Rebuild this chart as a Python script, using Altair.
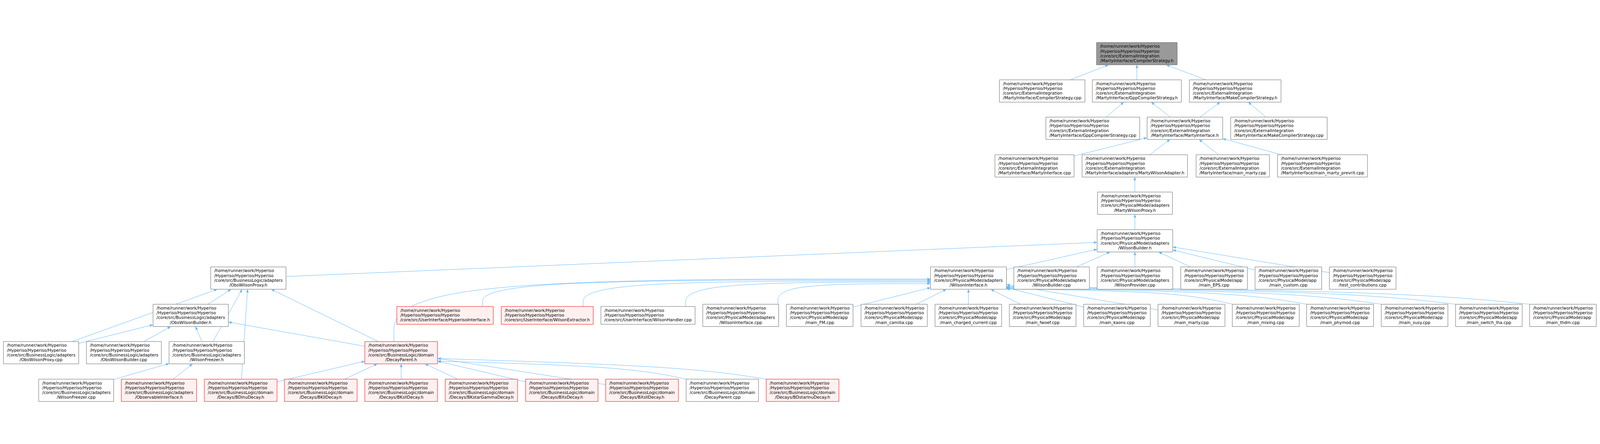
import math
import altair as alt
import pandas as pd

H1 = "/home/runner/work/Hyperiso"
H2 = "/Hyperiso/Hyperiso/Hyperiso"
EI = "/core/src/ExternalIntegration"
PMA = "/core/src/PhysicalModel/adapters"
APP = "/core/src/PhysicalModel/app"
BLA = "/core/src/BusinessLogic/adapters"
BLD = "/core/src/BusinessLogic/domain"

# ---- nodes: label lines, kind ----
node_labels = [
    [H1, H2, EI, "/MartyInterface/CompilerStrategy.h"],          # 0
    [H1, H2, EI, "/MartyInterface/CompilerStrategy.cpp"],        # 1
    [H1, H2, EI, "/MartyInterface/GppCompilerStrategy.h"],       # 2
    [H1, H2, EI, "/MartyInterface/MakeCompilerStrategy.h"],      # 3
    [H1, H2, EI, "/MartyInterface/GppCompilerStrategy.cpp"],     # 4
    [H1, H2, EI, "/MartyInterface/MartyInterface.h"],            # 5
    [H1, H2, EI, "/MartyInterface/MakeCompilerStrategy.cpp"],    # 6
    [H1, H2, EI, "/MartyInterface/MartyInterface.cpp"],          # 7
    [H1, H2, EI, "/MartyInterface/adapters/MartyWilsonAdapter.h"],  # 8
    [H1, H2, EI, "/MartyInterface/main_marty.cpp"],              # 9
    [H1, H2, EI, "/MartyInterface/main_marty_prevrit.cpp"],      # 10
    [H1, H2, PMA, "/MartyWilsonProxy.h"],                        # 11
    [H1, H2, PMA, "/WilsonBuilder.h"],                           # 12
    [H1, H2, BLA, "/ObsWilsonProxy.h"],                          # 13
    [H1, H2, PMA, "/WilsonInterface.h"],                         # 14
    [H1, H2, PMA, "/WilsonBuilder.cpp"],                         # 15
    [H1, H2, PMA, "/WilsonProvider.cpp"],                        # 16
    [H1, H2, APP, "/main_EPS.cpp"],                              # 17
    [H1, H2, APP, "/main_custom.cpp"],                           # 18
    [H1, H2, APP, "/test_contributions.cpp"],                    # 19
    [H1, H2, BLA, "/ObsWilsonBuilder.h"],                        # 20
    [H1, H2, "/core/src/UserInterface/HyperisoInterface.h"],     # 21
    [H1, H2, "/core/src/UserInterface/WilsonExtractor.h"],       # 22
    [H1, H2, "/core/src/UserInterface/WilsonHandler.cpp"],       # 23
    [H1, H2, PMA, "/WilsonInterface.cpp"],                       # 24
    [H1, H2, APP, "/main_FM.cpp"],                               # 25
    [H1, H2, APP, "/main_camilia.cpp"],                          # 26
    [H1, H2, APP, "/main_charged_current.cpp"],                  # 27
    [H1, H2, APP, "/main_fwoef.cpp"],                            # 28
    [H1, H2, APP, "/main_kaons.cpp"],                            # 29
    [H1, H2, APP, "/main_marty.cpp"],                            # 30
    [H1, H2, APP, "/main_mixing.cpp"],                           # 31
    [H1, H2, APP, "/main_phymod.cpp"],                           # 32
    [H1, H2, APP, "/main_susy.cpp"],                             # 33
    [H1, H2, APP, "/main_switch_lha.cpp"],                       # 34
    [H1, H2, APP, "/main_thdm.cpp"],                             # 35
    [H1, H2, BLA, "/ObsWilsonProxy.cpp"],                        # 36
    [H1, H2, BLA, "/ObsWilsonBuilder.cpp"],                      # 37
    [H1, H2, BLA, "/WilsonFreezer.h"],                           # 38
    [H1, H2, BLD, "/DecayParent.h"],                             # 39
    [H1, H2, BLA, "/WilsonFreezer.cpp"],                         # 40
    [H1, H2, BLA, "/ObservableInterface.h"],                     # 41
    [H1, H2, BLD, "/Decays/BDlnuDecay.h"],                       # 42
    [H1, H2, BLD, "/Decays/BKllDecay.h"],                        # 43
    [H1, H2, BLD, "/Decays/BKsllDecay.h"],                       # 44
    [H1, H2, BLD, "/Decays/BKstarGammaDecay.h"],                 # 45
    [H1, H2, BLD, "/Decays/BXsDecay.h"],                         # 46
    [H1, H2, BLD, "/Decays/BXsllDecay.h"],                       # 47
    [H1, H2, BLD, "/DecayParent.cpp"],                           # 48
    [H1, H2, BLD, "/Decays/BDstarlnuDecay.h"],                   # 49
]
node_kind = (["focus"] + ["plain"] * 20 + ["red", "red"] + ["plain"] * 16
             + ["red", "plain", "red", "red", "red", "red", "red", "red", "red", "plain", "red"])

# ---- layout (graph positions) ----
node_x1 = [3417, 3114, 3404, 3707, 3259, 3575, 3836, 3100, 3372, 3728, 3982,
           3420, 3419, 652, 2899, 3159, 3419, 3680, 3912, 4144,
           472, 1233, 1559, 1870, 2188, 2449, 2682, 2913, 3145, 3377, 3609, 3841, 4073, 4306, 4538, 4769,
           5, 264, 522, 1133,
           115, 373, 632, 882, 1133, 1384, 1635, 1885, 2136, 2386]
node_x2 = [3669, 3381, 3682, 3993, 3552, 3811, 4137, 3347, 3701, 3957, 4263,
           3654, 3655, 887, 3136, 3395, 3655, 3888, 4120, 4352,
           707, 1534, 1846, 2164, 2425, 2657, 2889, 3121, 3353, 3585, 3818, 4050, 4282, 4514, 4746, 4977,
           240, 498, 757, 1360,
           349, 608, 859, 1109, 1360, 1610, 1861, 2112, 2362, 2613]
row_top = [5, 122, 239, 357, 474, 592, 709, 826, 943, 1061]
node_row = [0, 1, 1, 1, 2, 2, 2, 3, 3, 3, 3, 4, 5] + [6] * 7 + [7] * 16 + [8] * 4 + [9] * 10

# ---- edges: child, parent, routing, parent-side port, child-top port ----
edge_child = [1, 2, 3, 4, 5, 5, 6, 7, 8, 9, 10, 11, 12,
              13, 14, 15, 16, 17, 18, 19,
              20, 36, 38, 42, 39,
              39, 21, 22, 23, 24,
              25, 26, 27, 28, 29, 30,
              31, 32, 33, 34, 35,
              36, 37, 38, 39,
              40, 41,
              42, 43, 44, 45, 46, 47, 48, 49]
edge_parent = [0, 0, 0, 2, 2, 3, 3, 5, 5, 5, 5, 8, 11,
               12, 12, 12, 12, 12, 12, 12,
               13, 13, 13, 13, 13,
               14, 14, 14, 14, 14,
               14, 14, 14, 14, 14, 14,
               14, 14, 14, 14, 14,
               20, 20, 20, 20,
               38, 38,
               39, 39, 39, 39, 39, 39, 39, 39]
edge_route = (["s"] * 25 + ["L"] * 5 + ["s"] * 6 + ["R"] * 5 + ["s"] * 8
              + ["s", "s", "s", "s", "R", "R", "R", "R"])
edge_f = ([0] * 25 + [0.54, 0.58, 0.63, 0.68, 0.75] + [0] * 6
          + [0.99, 0.96, 0.93, 0.90, 0.87] + [0] * 8 + [0, 0, 0, 0, 0.88, 0.76, 0.66, 0.56])
edge_g = ([0] * 25 + [0.40, 0.89, 0.89, 0.90, 0.99] + [0] * 6
          + [0.0] * 5 + [0] * 8 + [0, 0, 0, 0, 0.0, 0.0, 0.0, 0.0])

FILL = {"focus": "#999999", "plain": "#ffffff", "red": "#fff0f0"}
STROKE = {"focus": "#666666", "plain": "#666666", "red": "#ff0000"}
EDGE = "#63b8ff"
LH = 15.0

# ---- build node table ----
boxes = []
for i, lab in enumerate(node_labels):
    n = len(lab)
    y1 = row_top[node_row[i]]
    hgt = 70 if n == 4 else 56
    if n == 3:
        y1 += 7
    boxes.append(dict(id=i, x=node_x1[i], x2=node_x2[i], y=y1, y2=y1 + hgt, kind=node_kind[i]))
nodes_df = pd.DataFrame(boxes)

text_rows = []
for b, lab in zip(boxes, node_labels):
    n = len(lab)
    cx = (b["x"] + b["x2"]) / 2
    cy = (b["y"] + b["y2"]) / 2
    for k, line in enumerate(lab):
        yy = cy + (k - (n - 1) / 2) * LH
        if k < n - 1:
            text_rows.append(dict(x=b["x"] + 11, y=yy, t=line, al="left"))
        else:
            text_rows.append(dict(x=cx, y=yy, t=line, al="center"))
text_df = pd.DataFrame(text_rows)


def center(b):
    return ((b["x"] + b["x2"]) / 2, (b["y"] + b["y2"]) / 2)


def clip(b, target):
    cx, cy = center(b)
    dx, dy = target[0] - cx, target[1] - cy
    hw, hh = (b["x2"] - b["x"]) / 2, (b["y2"] - b["y"]) / 2
    t = min(hw / abs(dx) if dx else 1e9, hh / abs(dy) if dy else 1e9)
    return (cx + dx * t, cy + dy * t)


line_rows, arrow_rows = [], []
for e, (c, p) in enumerate(zip(edge_child, edge_parent)):
    cb, pb = boxes[c], boxes[p]
    r = edge_route[e]
    if r == "s":
        tip = clip(pb, center(cb))
        end = clip(cb, center(pb))
        pts = [tip, end]
    elif r == "L":
        tip = (pb["x"], pb["y"] + edge_f[e] * (pb["y2"] - pb["y"]))
        end = (cb["x"] + edge_g[e] * (cb["x2"] - cb["x"]), cb["y"])
        pts = [tip, (end[0], tip[1]), end]
    else:
        tip = (pb["x2"], pb["y"] + edge_f[e] * (pb["y2"] - pb["y"]))
        end = (cb["x"] + edge_g[e] * (cb["x2"] - cb["x"]) + 1, cb["y"])
        pts = [tip, (tip[0] + 0.75 * (end[0] - tip[0]), end[1] - 40), end]
    for o, (px, py) in enumerate(pts):
        line_rows.append(dict(eid=e, o=o, x=px, y=py))
    nx, ny = pts[1]
    dx, dy = tip[0] - nx, tip[1] - ny
    L = math.hypot(dx, dy)
    ux, uy = dx / L, dy / L
    ang = (math.degrees(math.atan2(ux, -uy)) + 360) % 360
    arrow_rows.append(dict(x=tip[0] - ux * 5, y=tip[1] - uy * 5, ang=ang))
lines_df = pd.DataFrame(line_rows)
arrows_df = pd.DataFrame(arrow_rows)

XS = alt.Scale(domain=[4, 4979], nice=False, zero=False)
YS = alt.Scale(domain=[4, 1132], nice=False, zero=False, reverse=True)

edges = alt.Chart(lines_df).mark_line(interpolate="basis", color=EDGE, strokeWidth=1.2).encode(
    x=alt.X("x:Q", scale=XS, axis=None),
    y=alt.Y("y:Q", scale=YS, axis=None),
    detail="eid:N",
    order="o:Q",
)

arrows = alt.Chart(arrows_df).mark_point(
    shape="M0,-1L0.8,1L-0.8,1Z", filled=True, size=100, color=EDGE, opacity=1, strokeWidth=0
).encode(
    x=alt.X("x:Q", scale=XS, axis=None),
    y=alt.Y("y:Q", scale=YS, axis=None),
    angle=alt.Angle("ang:Q", scale=None),
)

kinds = ["focus", "plain", "red"]
rects = alt.Chart(nodes_df).mark_rect(strokeWidth=1.2).encode(
    x=alt.X("x:Q", scale=XS, axis=None),
    x2="x2:Q",
    y=alt.Y("y:Q", scale=YS, axis=None),
    y2="y2:Q",
    fill=alt.Fill("kind:N", scale=alt.Scale(domain=kinds, range=[FILL[k] for k in kinds]), legend=None),
    stroke=alt.Stroke("kind:N", scale=alt.Scale(domain=kinds, range=[STROKE[k] for k in kinds]), legend=None),
)

txt_kw = dict(baseline="middle", font="DejaVu Sans", fontSize=13, color="#000000")
text_left = alt.Chart(text_df).transform_filter(alt.datum.al == "left").mark_text(align="left", **txt_kw).encode(
    x=alt.X("x:Q", scale=XS, axis=None), y=alt.Y("y:Q", scale=YS, axis=None), text="t:N")
text_center = alt.Chart(text_df).transform_filter(alt.datum.al == "center").mark_text(align="center", **txt_kw).encode(
    x=alt.X("x:Q", scale=XS, axis=None), y=alt.Y("y:Q", scale=YS, axis=None), text="t:N")

chart = alt.layer(edges, rects, arrows, text_left, text_center).properties(
    width=4967, height=1120, padding=0, autosize=alt.AutoSizeParams(type="none"), background="#ffffff"
).configure_view(stroke=None)

chart.save("out.html", embed_options={"renderer": "svg", "actions": False})
